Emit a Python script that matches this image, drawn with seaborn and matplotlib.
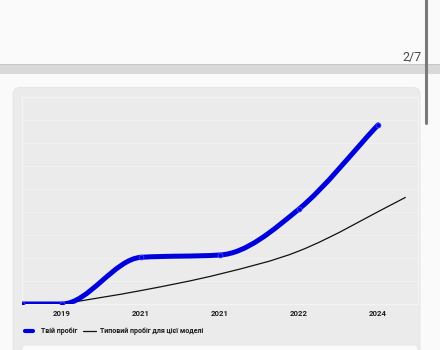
import numpy as np
import matplotlib
matplotlib.use("Agg")
import matplotlib.pyplot as plt
import seaborn as sns
from matplotlib.path import Path
from matplotlib.patches import PathPatch, FancyBboxPatch, Rectangle
from matplotlib.lines import Line2D

# ---- data ----
tick_labels = ["2019", "2021", "2021", "2022", "2024"]
tick_pos = [1, 2, 3, 4, 5]
your_x = [0.5, 1, 2, 3, 4, 5]
your_km = [0, 0, 40600, 42600, 82600, 155700]
typ_x = [1, 2, 3, 4, 5.35]
typ_km = [0, 11700, 26100, 46100, 92800]
legend_labels = ["Твій пробіг", "Типовий пробіг для цієї моделі"]
page_label = "2/7"

sns.set_theme(style="white")
plt.rcParams["font.family"] = ["Roboto", "DejaVu Sans"]

W, H = 440, 350
BLUE = "#0000dd"


def monotone_path(x, y):
    """Monotone cubic (Fritsch-Carlson) curve as Bezier path through data points."""
    x = np.asarray(x, float)
    y = np.asarray(y, float)
    n = len(x)
    h = np.diff(x)
    d = np.diff(y) / h
    m = np.zeros(n)
    m[0] = d[0]
    m[-1] = d[-1]
    for k in range(1, n - 1):
        m[k] = 0.0 if d[k - 1] * d[k] <= 0 else (d[k - 1] + d[k]) / 2
    for k in range(n - 1):
        if d[k] == 0:
            m[k] = 0.0
            m[k + 1] = 0.0
            continue
        a = m[k] / d[k]
        b = m[k + 1] / d[k]
        s = a * a + b * b
        if s > 9:
            t = 3 / np.sqrt(s)
            m[k] = t * a * d[k]
            m[k + 1] = t * b * d[k]
    verts = [(x[0], y[0])]
    codes = [Path.MOVETO]
    for k in range(n - 1):
        verts += [(x[k] + h[k] / 3, y[k] + m[k] * h[k] / 3),
                  (x[k + 1] - h[k] / 3, y[k + 1] - m[k + 1] * h[k] / 3),
                  (x[k + 1], y[k + 1])]
        codes += [Path.CURVE4] * 3
    return Path(verts, codes)


fig = plt.figure(figsize=(4.4, 3.5), dpi=100, facecolor="#fafafa")


def fx(px):
    return px / W


def fy(py):
    return 1 - py / H


# page decorations (pixel coordinates)
fig.add_artist(Rectangle((0, H - 73.5), W, 10, transform=None,
                         facecolor="#d9d9d9", edgecolor="none", zorder=-3))
fig.add_artist(Line2D([0, W], [H - 63.8, H - 63.8], transform=None,
                      color="#c6c6c6", lw=0.7, zorder=-2))
fig.add_artist(FancyBboxPatch((13, -10), 407, H + 10 - 87.5,
                              boxstyle="round,pad=0,rounding_size=7",
                              transform=None, facecolor="#ebebeb",
                              edgecolor="#e4e4e4", lw=0.6, zorder=-1))
fig.add_artist(FancyBboxPatch((22, -10), 396, H + 10 - 345,
                              boxstyle="round,pad=0,rounding_size=4",
                              transform=None, facecolor="#fbfbfb",
                              edgecolor="#e2e2e2", lw=0.6, zorder=1))
fig.add_artist(Line2D([426, 426], [H + 5, H - 123], transform=None,
                      color="#7a7a7a", lw=2.2, solid_capstyle="round", zorder=5))
fig.text(fx(412), fy(57), page_label, ha="center", va="center",
         fontsize=9, color="#4a4a4a")

# chart
ax = fig.add_axes([fx(22), fy(304), (418 - 22) / W, (304 - 97) / H])
ax.set_facecolor("#ebebeb")
ax.set_xlim(0.494, 5.506)
ax.set_ylim(0, 180000)
ax.set_yticks(np.arange(0, 180001, 20000))
ax.yaxis.grid(True, color="#f1f1f1", lw=0.8)
ax.xaxis.grid(False)
ax.tick_params(axis="y", left=False, labelleft=False)
ax.set_xticks(tick_pos)
ax.set_xticklabels(tick_labels, fontsize=5.6, fontweight="bold", color="#1e1e1e")
ax.tick_params(axis="x", length=0, pad=4.5)
for sp in ax.spines.values():
    sp.set_color("#f3f3f3")
    sp.set_linewidth(0.9)

ax.add_patch(PathPatch(monotone_path(typ_x, typ_km), facecolor="none",
                       edgecolor="#111111", lw=0.9, zorder=2))
ax.add_patch(PathPatch(monotone_path(your_x, your_km), facecolor="none",
                       edgecolor=BLUE, lw=3.6, capstyle="round",
                       joinstyle="round", zorder=3))
sns.scatterplot(x=your_x, y=your_km, s=12, color=BLUE, edgecolor="#4040ff",
                linewidth=0.6, zorder=4, ax=ax, legend=False)
ax.set_xlabel("")
ax.set_ylabel("")

# legend
ly = H - 331
fig.add_artist(Line2D([25, 33], [ly, ly], transform=None, color=BLUE,
                      lw=3.0, solid_capstyle="round", zorder=4))
fig.text(fx(41), fy(331), legend_labels[0], ha="left", va="center",
         fontsize=5.0, fontweight="bold", color="#1a1a1a")
fig.add_artist(Line2D([83, 96], [ly, ly], transform=None, color="#111111",
                      lw=0.9, zorder=4))
fig.text(fx(100), fy(331), legend_labels[1], ha="left", va="center",
         fontsize=5.0, fontweight="bold", color="#1a1a1a")

fig.savefig("out.png", dpi=100, facecolor=fig.get_facecolor())
